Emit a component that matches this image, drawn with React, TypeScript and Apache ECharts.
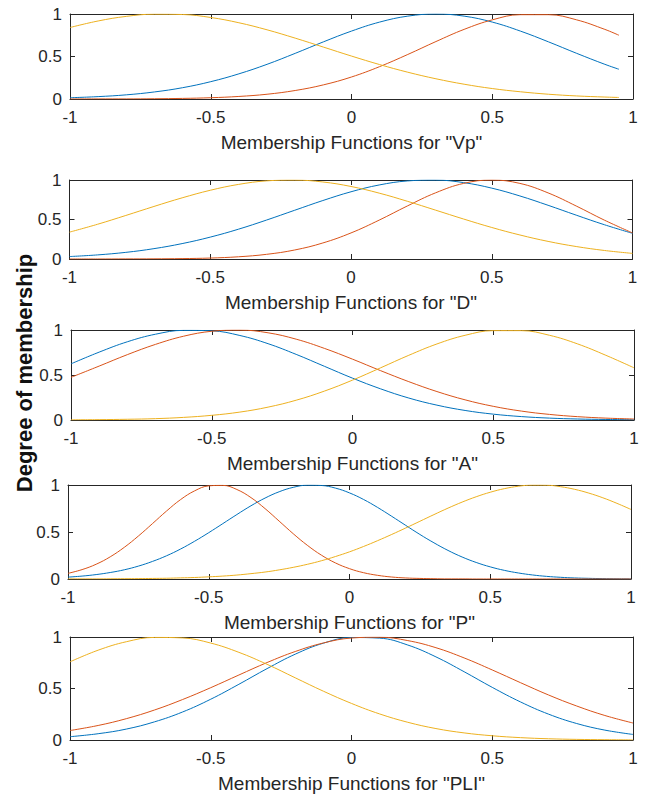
import React, { useEffect, useRef } from "react";
import * as echarts from "echarts";

// x sample positions (the "Vp" curves stop at 0.95; "P" is sampled more finely)
const X_VP = [-1, -0.9, -0.8, -0.7, -0.6, -0.5, -0.4, -0.3, -0.2, -0.1, 0, 0.1, 0.2, 0.3, 0.4, 0.5, 0.6, 0.7, 0.8, 0.9, 0.95];
const X_STD = [-1, -0.9, -0.8, -0.7, -0.6, -0.5, -0.4, -0.3, -0.2, -0.1, 0, 0.1, 0.2, 0.3, 0.4, 0.5, 0.6, 0.7, 0.8, 0.9, 1];
const X_P = [
  -1, -0.95, -0.9, -0.85, -0.8, -0.75, -0.7, -0.65, -0.6, -0.55, -0.5, -0.45, -0.4, -0.35, -0.3, -0.25, -0.2, -0.15, -0.1, -0.05,
  0, 0.05, 0.1, 0.15, 0.2, 0.25, 0.3, 0.35, 0.4, 0.45, 0.5, 0.55, 0.6, 0.65, 0.7, 0.75, 0.8, 0.85, 0.9, 0.95, 1,
];

const X_TICKS = [-1, -0.5, 0, 0.5, 1];
const Y_TICKS = [0, 0.5, 1];

const TITLES = [
  'Membership Functions for "Vp"',
  'Membership Functions for "D"',
  'Membership Functions for "A"',
  'Membership Functions for "P"',
  'Membership Functions for "PLI"',
];
const Y_LABEL = "Degree of membership";

// Vp
const vpBlue = [0.015, 0.028, 0.049, 0.083, 0.133, 0.204, 0.296, 0.408, 0.537, 0.672, 0.799, 0.905, 0.975, 1, 0.975, 0.905, 0.799, 0.672, 0.537, 0.408, 0.35];
const vpRed = [0, 0.001, 0.001, 0.003, 0.007, 0.015, 0.03, 0.056, 0.1, 0.166, 0.259, 0.381, 0.524, 0.676, 0.819, 0.931, 0.992, 0.992, 0.931, 0.819, 0.75];
const vpYellow = [0.841, 0.918, 0.972, 0.998, 0.994, 0.959, 0.897, 0.814, 0.716, 0.611, 0.505, 0.405, 0.315, 0.238, 0.174, 0.123, 0.085, 0.056, 0.036, 0.023, 0.018];
// D
const dBlue = [0.031, 0.052, 0.084, 0.131, 0.195, 0.277, 0.377, 0.493, 0.617, 0.74, 0.851, 0.937, 0.988, 0.999, 0.967, 0.897, 0.798, 0.68, 0.555, 0.434, 0.325];
const dRed = [0, 0, 0.001, 0.002, 0.005, 0.012, 0.028, 0.059, 0.114, 0.203, 0.33, 0.492, 0.671, 0.837, 0.957, 1, 0.957, 0.837, 0.671, 0.492, 0.33];
const dYellow = [0.34, 0.44, 0.551, 0.665, 0.774, 0.87, 0.944, 0.989, 0.999, 0.975, 0.918, 0.834, 0.731, 0.619, 0.506, 0.399, 0.304, 0.223, 0.158, 0.108, 0.071];
// A
const aBlue = [0.624, 0.754, 0.869, 0.953, 0.996, 0.991, 0.939, 0.848, 0.729, 0.597, 0.465, 0.346, 0.244, 0.165, 0.106, 0.065, 0.038, 0.021, 0.011, 0.006, 0.003];
const aRed = [0.474, 0.599, 0.726, 0.84, 0.931, 0.986, 0.999, 0.969, 0.898, 0.796, 0.676, 0.548, 0.426, 0.316, 0.224, 0.152, 0.099, 0.062, 0.037, 0.021, 0.011];
const aYellow = [0.002, 0.004, 0.008, 0.015, 0.029, 0.052, 0.088, 0.143, 0.22, 0.321, 0.443, 0.58, 0.719, 0.845, 0.941, 0.993, 0.993, 0.941, 0.845, 0.719, 0.58];
// P (sampled on X_P)
const pBlue = [
  0.02, 0.031, 0.047, 0.069, 0.098, 0.137, 0.187, 0.247, 0.319, 0.402, 0.493, 0.589, 0.686, 0.779, 0.861, 0.928, 0.975, 0.998, 0.995, 0.967,
  0.916, 0.846, 0.761, 0.667, 0.57, 0.474, 0.385, 0.304, 0.234, 0.176, 0.129, 0.092, 0.064, 0.043, 0.028, 0.018, 0.011, 0.007, 0.004, 0.002, 0.001,
];
const pRed = [
  0.06, 0.1, 0.157, 0.236, 0.337, 0.457, 0.589, 0.723, 0.845, 0.938, 0.991, 0.996, 0.952, 0.866, 0.749, 0.616, 0.482, 0.359, 0.254, 0.171,
  0.11, 0.067, 0.039, 0.021, 0.011, 0.006, 0.003, 0.001, 0.001, 0, 0, 0, 0, 0, 0, 0, 0, 0, 0, 0, 0,
];
const pYellow = [
  0.001, 0.001, 0.001, 0.002, 0.003, 0.004, 0.006, 0.008, 0.012, 0.016, 0.023, 0.031, 0.042, 0.057, 0.074, 0.097, 0.124, 0.156, 0.194, 0.239,
  0.289, 0.346, 0.408, 0.474, 0.543, 0.614, 0.685, 0.754, 0.818, 0.875, 0.923, 0.961, 0.987, 0.999, 0.998, 0.982, 0.954, 0.914, 0.864, 0.805, 0.74,
];
// PLI
const pliBlue = [0.032, 0.061, 0.106, 0.176, 0.272, 0.396, 0.541, 0.693, 0.833, 0.94, 0.995, 0.989, 0.922, 0.807, 0.663, 0.511, 0.37, 0.251, 0.16, 0.096, 0.054];
const pliRed = [0.092, 0.141, 0.207, 0.291, 0.393, 0.508, 0.631, 0.752, 0.859, 0.942, 0.99, 0.998, 0.965, 0.896, 0.797, 0.68, 0.557, 0.437, 0.33, 0.238, 0.165];
const pliYellow = [0.759, 0.872, 0.954, 0.996, 0.991, 0.941, 0.851, 0.735, 0.604, 0.474, 0.355, 0.253, 0.172, 0.111, 0.069, 0.041, 0.023, 0.012, 0.006, 0.003, 0.001];

const PANELS = [
  { x: X_VP, blue: vpBlue, red: vpRed, yellow: vpYellow },
  { x: X_STD, blue: dBlue, red: dRed, yellow: dYellow },
  { x: X_STD, blue: aBlue, red: aRed, yellow: aYellow },
  { x: X_P, blue: pBlue, red: pRed, yellow: pYellow },
  { x: X_STD, blue: pliBlue, red: pliRed, yellow: pliYellow },
];

const GRIDS = [
  { left: 70, top: 14, width: 563, height: 85 },
  { left: 69.5, top: 180, width: 563, height: 79 },
  { left: 71, top: 330, width: 563, height: 90 },
  { left: 68, top: 485, width: 563, height: 94 },
  { left: 70, top: 637, width: 563, height: 103 },
];

const COLORS = { blue: "#0072BD", red: "#D95319", yellow: "#EDB120" };
const AX = "#262626";
const FONT = '"Liberation Sans", Arial, Helvetica, sans-serif';

export default function App() {
  const ref = useRef<HTMLDivElement>(null);
  useEffect(() => {
    if (!ref.current) return;
    const chart = echarts.init(ref.current, undefined, { renderer: "svg" });
    const grid: any[] = [];
    const xAxis: any[] = [];
    const yAxis: any[] = [];
    const series: any[] = [];
    const tick = { show: true, inside: true, length: 5, lineStyle: { color: AX, width: 1 } };
    const line = { show: true, onZero: false, lineStyle: { color: AX, width: 1 } };
    PANELS.forEach((p, i) => {
      grid.push({ ...GRIDS[i], containLabel: false, show: false });
      xAxis.push({
        type: "value", gridIndex: i, min: X_TICKS[0], max: X_TICKS[X_TICKS.length - 1], interval: 0.5,
        position: "bottom", axisLine: line, axisTick: tick, splitLine: { show: false },
        axisLabel: { show: true, margin: 10, fontSize: 17, color: AX, fontFamily: FONT },
        name: TITLES[i], nameLocation: "middle", nameGap: 34,
        nameTextStyle: { fontSize: 19, color: AX, fontFamily: FONT },
      });
      yAxis.push({
        type: "value", gridIndex: i, min: Y_TICKS[0], max: Y_TICKS[Y_TICKS.length - 1], interval: 0.5,
        position: "left", axisLine: line, axisTick: tick, splitLine: { show: false },
        axisLabel: { show: true, margin: 8, fontSize: 17, color: AX, fontFamily: FONT },
      });
      (["blue", "red", "yellow"] as const).forEach((c) => {
        series.push({
          type: "line", xAxisIndex: i, yAxisIndex: i, showSymbol: false, smooth: 0.4,
          data: p.x.map((xv, k) => [xv, (p as any)[c][k]]),
          lineStyle: { color: COLORS[c], width: 1 }, itemStyle: { color: COLORS[c] },
          silent: true,
        });
      });
    });
    // mirrored axes (top / right) to close the box
    PANELS.forEach((_, i) => {
      xAxis.push({
        type: "value", gridIndex: i, min: -1, max: 1, interval: 0.5, position: "top",
        axisLine: line, axisTick: tick, axisLabel: { show: false }, splitLine: { show: false },
      });
      yAxis.push({
        type: "value", gridIndex: i, min: 0, max: 1, interval: 0.5, position: "right",
        axisLine: line, axisTick: tick, axisLabel: { show: false }, splitLine: { show: false },
      });
    });
    chart.setOption({
      animation: false,
      backgroundColor: "#ffffff",
      grid, xAxis, yAxis, series,
      graphic: [
        {
          type: "text", x: 24, y: 373, rotation: Math.PI / 2,
          style: {
            text: Y_LABEL, fontSize: 22, fontWeight: "bold", fontFamily: FONT,
            fill: "#111111", align: "center", verticalAlign: "middle",
          },
        },
      ],
    });
    return () => chart.dispose();
  }, []);
  return (
    <div
      ref={ref}
      style={{ position: "fixed", left: 0, top: 0, width: 649, height: 794, background: "#fff" }}
    />
  );
}
